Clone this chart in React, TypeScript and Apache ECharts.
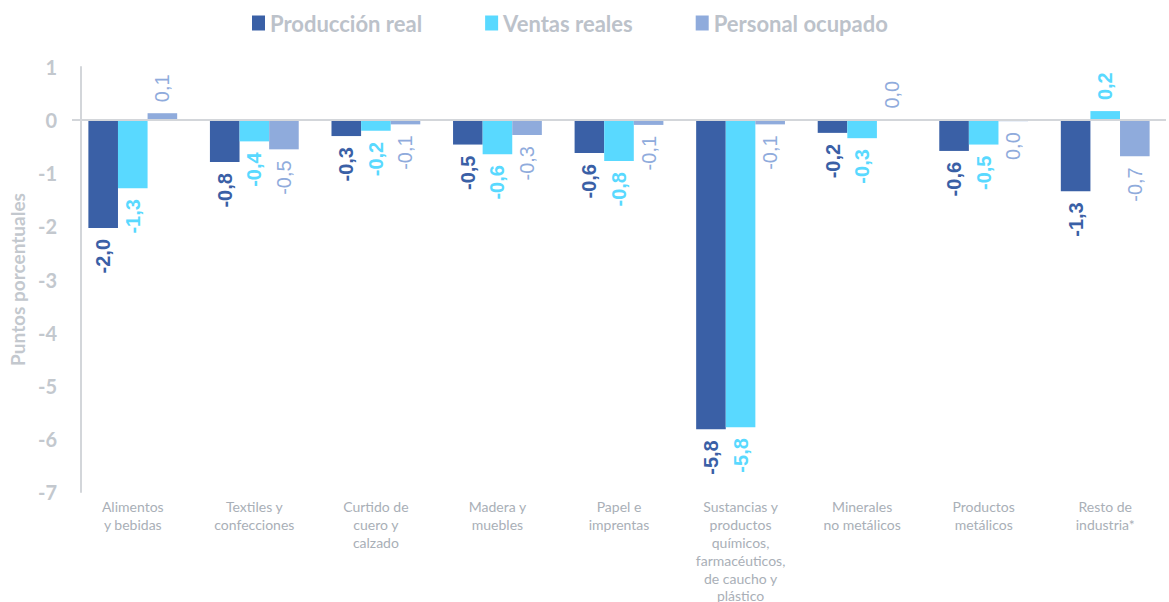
import React, { useEffect, useRef } from "react";
import * as echarts from "echarts";

const categories = [
  "Alimentos\ny bebidas",
  "Textiles y\nconfecciones",
  "Curtido de\ncuero y\ncalzado",
  "Madera y\nmuebles",
  "Papel e\nimprentas",
  "Sustancias y\nproductos\nquímicos,\nfarmacéuticos,\nde caucho y\nplástico",
  "Minerales\nno metálicos",
  "Productos\nmetálicos",
  "Resto de\nindustria*",
];

const produccionReal = [-2.03, -0.79, -0.3, -0.46, -0.62, -5.82, -0.24, -0.58, -1.34];
const ventasReales = [-1.28, -0.4, -0.2, -0.64, -0.77, -5.78, -0.34, -0.46, 0.17];
const personalOcupado = [0.13, -0.55, -0.08, -0.28, -0.09, -0.08, 0.01, -0.02, -0.68];

const yTicks = { min: -7, max: 1, interval: 1 };

const COLORS = ["#3A60A6", "#59D9FF", "#8FABDC"];
const GREY = "#BCC2CA";

const fmt = (v: number) => {
  const r = Math.round(v * 10) / 10;
  return (Math.abs(r) < 0.05 ? 0 : r).toFixed(1).replace(".", ",");
};

function makeSeries(name: string, values: number[], color: string, bold: boolean, withZero: boolean) {
  const s: any = {
    name,
    type: "bar",
    barWidth: 29.6,
    barGap: "0%",
    itemStyle: { color },
    data: values.map((v) => ({
      value: v,
      label: {
        position: v >= 0 ? "top" : "bottom",
        align: v >= 0 ? "left" : "right",
      },
    })),
    label: {
      show: true,
      rotate: 90,
      verticalAlign: "middle",
      distance: 11,
      color,
      fontFamily: "Liberation Sans, Arial, sans-serif",
      fontSize: 20,
      fontWeight: bold ? "bold" : "normal",
      formatter: (p: any) => fmt(p.value),
    },
  };
  if (withZero) {
    s.markLine = {
      silent: true,
      symbol: "none",
      label: { show: false },
      lineStyle: { color: "#D3D6DA", width: 2, type: "solid" },
      data: [{ yAxis: 0 }],
    };
  }
  return s;
}

export default function App() {
  const ref = useRef<HTMLDivElement>(null);
  useEffect(() => {
    if (!ref.current) return;
    const chart = echarts.init(ref.current, null, { renderer: "svg" });
    chart.setOption({
      animation: false,
      backgroundColor: "#FFFFFF",
      legend: {
        top: 7,
        left: 247,
        itemWidth: 13,
        itemHeight: 15,
        itemGap: 63,
        icon: "rect",
        textStyle: {
          color: GREY,
          fontFamily: "Lato, sans-serif",
          fontWeight: "bold",
          fontSize: 22,
        },
        data: ["Producción real", "Ventas reales", "Personal ocupado"],
      },
      grid: { left: 72, right: 3, top: 67, bottom: 110, containLabel: false, outerBoundsMode: "none" },
      xAxis: {
        type: "category",
        data: categories,
        axisLine: { show: false, onZero: false },
        axisTick: { show: false },
        axisLabel: {
          interval: 0,
          margin: 6,
          color: "#A9AFB7",
          fontFamily: "Lato, sans-serif",
          fontSize: 14,
          lineHeight: 17.8,
        },
      },
      yAxis: {
        type: "value",
        min: yTicks.min,
        max: yTicks.max,
        interval: yTicks.interval,
        offset: -9,
        name: "Puntos porcentuales",
        nameLocation: "middle",
        nameRotate: 90,
        nameGap: 53,
        nameTextStyle: {
          color: "#C3C8CE",
          fontFamily: "Lato, sans-serif",
          fontWeight: "bold",
          fontSize: 19,
        },
        splitLine: { show: false },
        axisTick: { show: false },
        axisLine: { show: true, lineStyle: { color: "#D3D6DA", width: 2 } },
        axisLabel: {
          margin: 24,
          color: "#C3C8CE",
          fontFamily: "Lato, sans-serif",
          fontWeight: "bold",
          fontSize: 20,
        },
      },
      series: [
        makeSeries("Producción real", produccionReal, COLORS[0], true, true),
        makeSeries("Ventas reales", ventasReales, COLORS[1], true, false),
        makeSeries("Personal ocupado", personalOcupado, COLORS[2], false, false),
      ],
    });
    return () => chart.dispose();
  }, []);
  return (
    <div
      ref={ref}
      style={{ position: "absolute", left: 0, top: 0, width: 1169, height: 602 }}
    />
  );
}
